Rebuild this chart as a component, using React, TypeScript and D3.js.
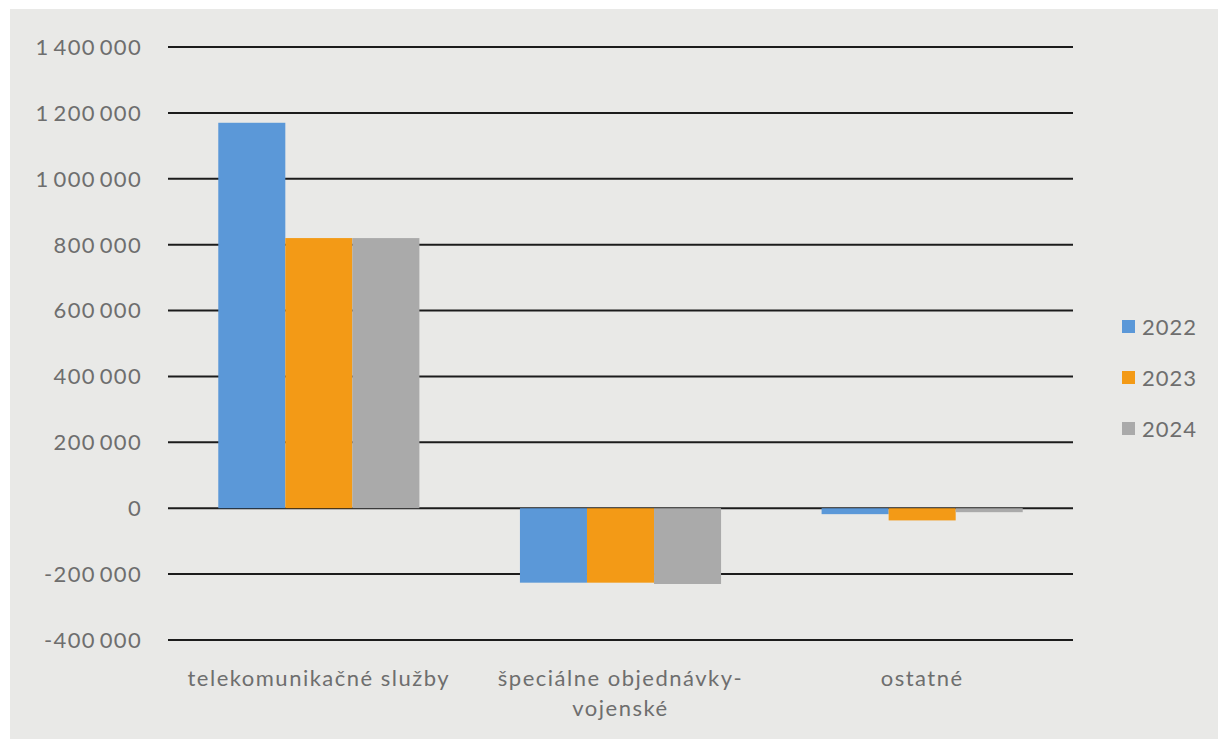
import * as d3 from 'd3';
import { useEffect, useRef } from 'react';

// Categories and series
const categories = ['telekomunikačné služby', 'špeciálne objednávky-vojenské', 'ostatné'];
const years = ['2022', '2023', '2024'];
const values2022 = [1170000, -226000, -18000];
const values2023 = [820000, -226000, -37000];
const values2024 = [820000, -230000, -12000];
const yTicks = [-400000, -200000, 0, 200000, 400000, 600000, 800000, 1000000, 1200000, 1400000];

const seriesValues = [values2022, values2023, values2024];
const colors = ['#5b98d8', '#f39a16', '#aaaaaa'];

const W = 1218;
const H = 739;

const App = () => {
  const svgRef = useRef<SVGSVGElement | null>(null);

  useEffect(() => {
    if (!svgRef.current) return;
    d3.select(svgRef.current).selectAll('*').remove();

    const svg = d3.select(svgRef.current)
      .attr('width', W)
      .attr('height', H)
      .attr('viewBox', `0 0 ${W} ${H}`);

    // scanned paper background
    svg.append('rect').attr('width', W).attr('height', H).attr('fill', '#ffffff');
    svg.append('rect')
      .attr('x', 10).attr('y', 9)
      .attr('width', W - 10).attr('height', H - 9)
      .attr('fill', '#e9e9e7');

    const plot = { left: 168, right: 1073, top: 47, bottom: 640 };

    const y = d3.scaleLinear()
      .domain([-400000, 1400000])
      .range([plot.bottom, plot.top]);

    const x0 = d3.scaleBand()
      .domain(categories)
      .range([plot.left, plot.right])
      .paddingInner(0)
      .paddingOuter(0);

    const x1 = d3.scaleBand()
      .domain(years)
      .range([0, x0.bandwidth()])
      .paddingInner(0)
      .paddingOuter(0.75);

    const fmt = (v: number) => {
      const s = d3.format(',')(Math.abs(v)).replace(/,/g, '\u2009');
      return (v < 0 ? '-' : '') + s;
    };

    // gridlines
    svg.append('g')
      .selectAll('line')
      .data(yTicks)
      .join('line')
      .attr('x1', plot.left)
      .attr('x2', plot.right)
      .attr('y1', d => y(d))
      .attr('y2', d => y(d))
      .attr('stroke', '#1c1c1c')
      .attr('stroke-width', 2);

    // y labels
    svg.append('g')
      .selectAll('text')
      .data(yTicks)
      .join('text')
      .attr('x', 142)
      .attr('y', d => y(d))
      .attr('dy', '0.36em')
      .attr('text-anchor', 'end')
      .style('font-family', 'Lato, sans-serif')
      .style('font-size', '22px')
      .style('letter-spacing', '1.3px')
      .style('fill', '#6e6e6e')
      .text(d => fmt(d));

    // bars
    const rows = categories.flatMap((c, i) =>
      years.map((yr, j) => ({ cat: c, year: yr, value: seriesValues[j][i], color: colors[j] }))
    );

    svg.append('g')
      .selectAll('rect')
      .data(rows)
      .join('rect')
      .attr('x', d => (x0(d.cat) || 0) + (x1(d.year) || 0))
      .attr('width', x1.bandwidth())
      .attr('y', d => y(Math.max(0, d.value)))
      .attr('height', d => Math.abs(y(d.value) - y(0)))
      .attr('fill', d => d.color);

    // category labels (wrapped)
    const labels = svg.append('g')
      .selectAll('text')
      .data(categories)
      .join('text')
      .attr('x', d => (x0(d) || 0) + x0.bandwidth() / 2)
      .attr('y', 686)
      .attr('text-anchor', 'middle')
      .style('font-family', 'Lato, sans-serif')
      .style('font-size', '22px')
      .style('letter-spacing', '1.5px')
      .style('fill', '#6e6e6e');

    labels.each(function (d) {
      const text = d3.select(this);
      const cx = text.attr('x');
      const tokens = d.match(/[^\s-]+-?/g) || [d];
      const maxW = 285;
      let line = '';
      let tspan = text.append('tspan').attr('x', cx).attr('dy', 0);
      tokens.forEach(tok => {
        const joined = line === '' ? tok : line.endsWith('-') ? line + tok : line + ' ' + tok;
        tspan.text(joined);
        if ((tspan.node()?.getComputedTextLength() || 0) > maxW && line !== '') {
          tspan.text(line);
          line = tok;
          tspan = text.append('tspan').attr('x', cx).attr('dy', 30).text(tok);
        } else {
          line = joined;
        }
      });
    });

    // legend
    const legend = svg.append('g')
      .selectAll('g')
      .data(years)
      .join('g')
      .attr('transform', (_, i) => `translate(1122, ${327 + i * 51})`);

    legend.append('rect')
      .attr('x', 0)
      .attr('y', -7)
      .attr('width', 13)
      .attr('height', 13)
      .attr('fill', (_, i) => colors[i]);

    legend.append('text')
      .attr('x', 20)
      .attr('y', 0)
      .attr('dy', '0.36em')
      .style('font-family', 'Lato, sans-serif')
      .style('font-size', '22px')
      .style('letter-spacing', '1px')
      .style('fill', '#6e6e6e')
      .text(d => d);
  }, []);

  return (
    <div style={{ position: 'fixed', left: 0, top: 0 }}>
      <svg ref={svgRef} style={{ display: 'block' }}></svg>
    </div>
  );
};

export default App;
